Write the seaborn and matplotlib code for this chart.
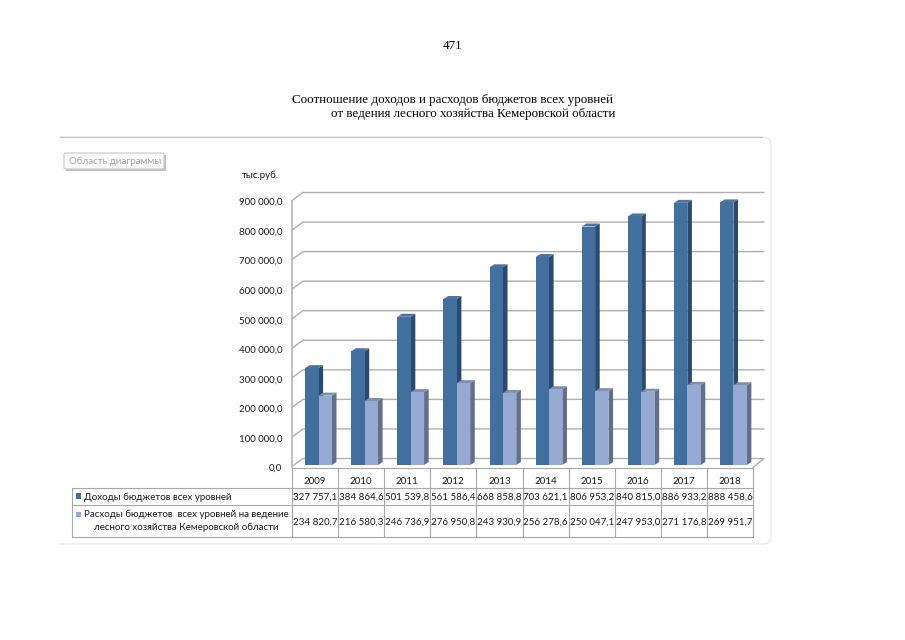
import matplotlib
matplotlib.use("Agg")
import matplotlib.pyplot as plt
from matplotlib.patches import FancyBboxPatch, Polygon, Rectangle
from matplotlib.transforms import ScaledTranslation
import pandas as pd
import seaborn as sns

years = ["2009", "2010", "2011", "2012", "2013", "2014", "2015", "2016", "2017", "2018"]
income = [327757.1, 384864.6, 501539.8, 561586.4, 668858.8, 703621.1, 806953.2, 840815.0, 886933.2, 888458.6]
expense = [234820.7, 216580.3, 246736.9, 276950.8, 243930.9, 256278.6, 250047.1, 247953.0, 271176.8, 269951.7]
y_ticks = [0, 100000, 200000, 300000, 400000, 500000, 600000, 700000, 800000, 900000]

income_name = "Доходы бюджетов всех уровней"
expense_name = "Расходы бюджетов  всех уровней на ведение"
expense_name2 = "лесного хозяйства Кемеровской области"

dark = ["#41709f", "#2b4a72", "#4f739f"]
light = ["#95a9d2", "#626f8b", "#7f8fb0"]
grid_col = "#b0b0b0"
line_col = "#a8a8a8"
text_col = "#1c1c1c"


def fmt(v, dec=1):
    s = f"{v:,.{dec}f}"
    return s.replace(",", " ").replace(".", ",")


sns.set_theme(style="white")
plt.rcParams["font.family"] = ["Lato", "DejaVu Sans"]
chart_font = 7.0

fig = plt.figure(figsize=(9.05, 6.4), dpi=100)

# page layer in pixels
page = fig.add_axes([0, 0, 1, 1])
page.set_xlim(0, 905)
page.set_ylim(640, 0)
page.axis("off")

serif = dict(family="Liberation Serif", color="black", fontsize=9.35, va="center")
page.text(452, 46, "471", ha="center", **serif)
page.text(292, 100.5, "Соотношение доходов и расходов бюджетов всех уровней", ha="left", **serif)
page.text(331, 114.5, "от ведения лесного хозяйства Кемеровской области", ha="left", **serif)

# chart frame, cut off on the left
frame = FancyBboxPatch((40, 137), 731, 407, boxstyle="round,pad=0,rounding_size=8",
                       fc="none", ec="#e6ecec", lw=1.0)
page.add_patch(frame)
frame.set_clip_path(Rectangle((60, 130), 720, 420, transform=page.transData))
page.plot([60, 762], [137, 137], color="#c4c4c4", lw=0.9)

# selection tooltip
page.add_patch(Rectangle((66, 155), 100, 16, fc="#9a9a9a", ec="none", alpha=0.6))
page.add_patch(FancyBboxPatch((64, 153), 100, 16, boxstyle="round,pad=0,rounding_size=1.5",
                              fc="#fbfbfb", ec="#c8c8c8", lw=0.8))
page.text(69, 161.5, "Область диаграммы", color="#a6a6a6", fontsize=chart_font, va="center")
page.text(242, 175.5, "тыс.руб.", color=text_col, fontsize=chart_font, va="center")

# table
left, right, cell = 292, 753, 46.1
row_y = [467.5, 487.5, 505, 536.5]
table_left = 72
page.plot([left, right], [row_y[0], row_y[0]], color=line_col, lw=0.8)
for yy in row_y[1:]:
    page.plot([table_left, right], [yy, yy], color=line_col, lw=0.8)
page.plot([table_left, table_left], [row_y[1], row_y[3]], color=line_col, lw=0.8)
for i in range(len(years) + 1):
    xx = left + cell * i
    page.plot([xx, xx], [row_y[0], row_y[3]], color=line_col, lw=0.8)
for i, yr in enumerate(years):
    xx = left + cell * (i + 0.5)
    page.text(xx, 482, yr, ha="center", va="center", color=text_col, fontsize=chart_font)
    page.text(xx, 497, fmt(income[i]), ha="center", va="center", color=text_col, fontsize=chart_font)
    page.text(xx, 522, fmt(expense[i]), ha="center", va="center", color=text_col, fontsize=chart_font)
page.add_patch(Rectangle((75.5, 493), 5.5, 5.5, fc=dark[0], ec="none"))
page.add_patch(Rectangle((75.5, 511.5), 5.5, 5.5, fc=light[0], ec="none"))
page.text(84, 497, income_name, va="center", color=text_col, fontsize=chart_font)
page.text(84, 514.5, expense_name, va="center", color=text_col, fontsize=chart_font)
page.text(186, 527.5, expense_name2, ha="center", va="center", color=text_col, fontsize=chart_font)

# plot area: zero level at y=465, 900 000 at y=199
ax = fig.add_axes([292 / 905, 1 - 465 / 640, 461 / 905, 266 / 640])
ax.patch.set_alpha(0)

df = pd.DataFrame({
    "year": years * 2,
    "value": income + expense,
    "kind": ["income"] * len(years) + ["expense"] * len(years),
})
sns.barplot(data=df, x="year", y="value", hue="kind", palette=[dark[0], light[0]],
            width=0.58, gap=0, legend=False, ax=ax, zorder=5, saturation=1, linewidth=0)

ax.set_xlim(-0.575, 9.425)
ax.set_ylim(0, 900000)
ax.set_xlabel("")
ax.set_ylabel("")
ax.set_xticks([])
ax.set_yticks(y_ticks)
ax.set_yticklabels([fmt(v) for v in y_ticks], fontsize=chart_font, color=text_col)
ax.tick_params(axis="y", length=0, pad=7)
down = ScaledTranslation(0, -2.5 / 72, fig.dpi_scale_trans)
for lab in ax.get_yticklabels():
    lab.set_verticalalignment("center")
    lab.set_transform(lab.get_transform() + down)
for side in ["top", "right", "bottom"]:
    ax.spines[side].set_visible(False)
ax.spines["left"].set_color(grid_col)
ax.spines["left"].set_linewidth(1.1)

# depth of the walls and of the bars, in data units
unit_x = 1 / cell
unit_y = 900000 / 266
wall_dx, wall_dy = 11 * unit_x, 8 * unit_y
bar_dx, bar_dy = 4.6 * unit_x, 3 * unit_y
x0, x1 = ax.get_xlim()
ax.spines["left"].set_bounds(-2 * unit_y, 900000 - 2 * unit_y)

# gridlines run one pixel below the bar scale
for v in y_ticks:
    base = v - 1.5 * unit_y
    ax.plot([x0, x0 + wall_dx, x1 + wall_dx], [base, base + wall_dy, base + wall_dy],
            color=grid_col, lw=1.0, clip_on=False, zorder=1)
ax.plot([x1, x1 + wall_dx], [-2.5 * unit_y, wall_dy - 1.5 * unit_y], color=grid_col, lw=1.0, clip_on=False, zorder=1)

# side and top faces of each bar
n = len(years)
for k, bar in enumerate(list(ax.patches)):
    cols = dark if k < n else light
    z = 3 if k < n else 6
    bx, bw, h = bar.get_x(), bar.get_width(), bar.get_height()
    bar.set_zorder(z + 1 if k >= n else 4)
    ax.add_patch(Polygon([(bx + bw, 0), (bx + bw + bar_dx, bar_dy), (bx + bw + bar_dx, h + bar_dy), (bx + bw, h)],
                         closed=True, fc=cols[1], ec="none", zorder=z, clip_on=False))
    ax.add_patch(Polygon([(bx, h), (bx + bar_dx, h + bar_dy), (bx + bw + bar_dx, h + bar_dy), (bx + bw, h)],
                         closed=True, fc=cols[2], ec="none", zorder=z, clip_on=False))

fig.savefig("out.png", dpi=100)
